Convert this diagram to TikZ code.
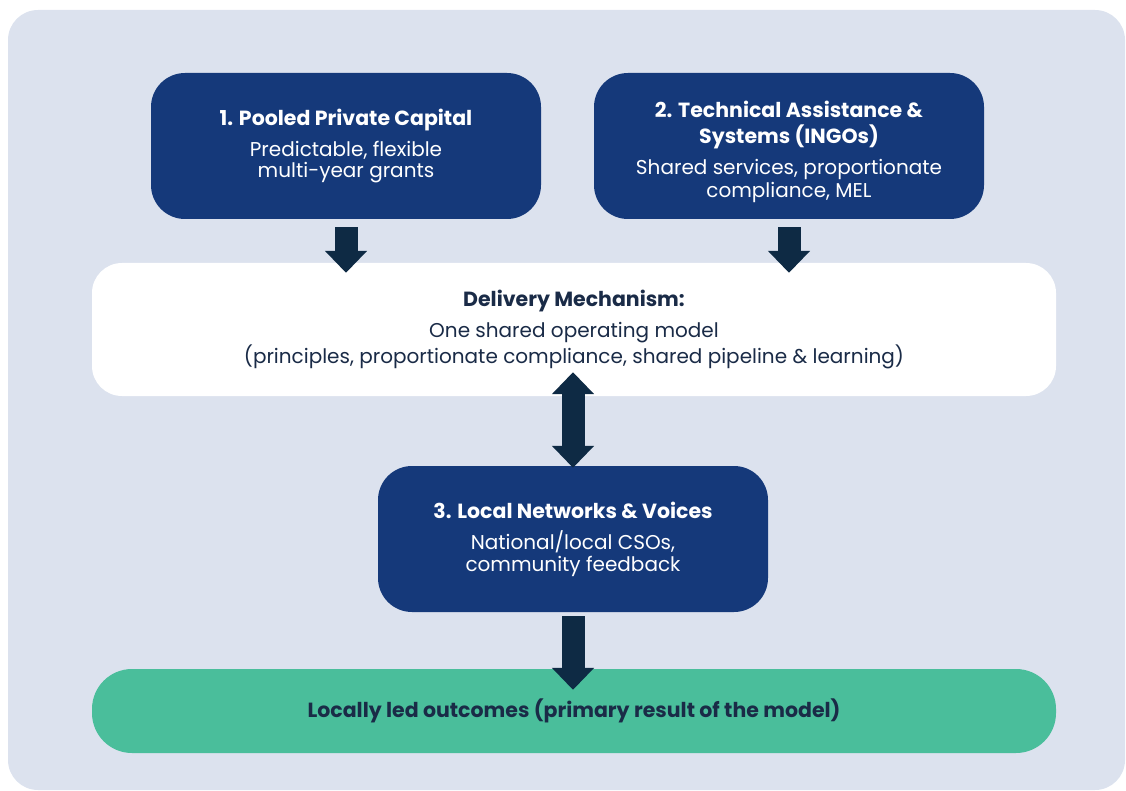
\documentclass[tikz,border=0pt]{standalone}
\usepackage{fontspec}
\setmainfont{Poppins}
\usetikzlibrary{arrows.meta,calc}

\definecolor{panelbg}{HTML}{DCE2EE}
\definecolor{boxblue}{HTML}{15397A}
\definecolor{arrowdark}{HTML}{0E2A44}
\definecolor{outgreen}{HTML}{4ABE9B}
\definecolor{textdark}{HTML}{1A2B47}

\tikzset{
  stage/.style={rectangle, rounded corners=34pt, fill=boxblue, text=white,
    minimum width=390pt, minimum height=146pt, align=center, inner sep=0pt},
  hub/.style={rectangle, rounded corners=30pt, fill=white, text=textdark,
    minimum width=964pt, minimum height=133pt, align=center, inner sep=0pt},
  result/.style={rectangle, rounded corners=40pt, fill=outgreen, text=textdark,
    minimum width=964pt, minimum height=84pt, align=center, inner sep=0pt},
  flow/.style={draw=arrowdark, line width=23pt,
    -{Triangle[width=41pt,length=22pt]}},
  twoway/.style={draw=arrowdark, line width=23pt,
    {Triangle[width=41pt,length=22pt]}-{Triangle[width=41pt,length=22pt]}},
}
\newcommand{\headfont}{\fontsize{20.5}{27}\selectfont\bfseries}
\newcommand{\bodyfont}{\fontsize{20}{22}\selectfont\mdseries}

\begin{document}
\begin{tikzpicture}[x=1pt,y=-1pt]
  \useasboundingbox (0,0) rectangle (1126,791);
  \fill[panelbg, rounded corners=30pt] (8,10) rectangle (1125,790);

  \node[stage] (capital) at (346,146)
    {\headfont 1. Pooled Private Capital\\[10pt]
     \bodyfont Predictable, flexible\\[2pt]\bodyfont multi-year grants};
  \node[stage] (support) at (789,146)
    {\headfont\rule{0pt}{28pt}2. Technical Assistance \&\\[6pt]\headfont Systems (INGOs)\\[10pt]
     \bodyfont Shared services, proportionate\\[1pt]\bodyfont compliance, MEL};
  \node[hub] (delivery) at (574,329.5)
    {\headfont Delivery Mechanism:\\[9pt]
     \bodyfont One shared operating model\\[1pt]\bodyfont (principles, proportionate compliance, shared pipeline \& learning)};
  \node[stage] (local) at (573,539)
    {\headfont 3. Local Networks \& Voices\\[11pt]
     \bodyfont National/local CSOs,\\[2pt]\bodyfont community feedback};
  \node[result] (outcome) at (574,711)
    {\headfont Locally led outcomes (primary result of the model)};

  % arrows into and out of the shared mechanism
  \draw[flow, shorten <=8pt, shorten >=-10pt] (capital.south) -- (capital.south |- delivery.north);
  \draw[flow, shorten <=8pt, shorten >=-10pt] (support.south) -- (support.south |- delivery.north);
  \draw[twoway, shorten <=-24pt, shorten >=-2pt] (local.north |- delivery.south) -- (local.north);
  \draw[flow, shorten <=4pt, shorten >=-21pt] (local.south) -- (local.south |- outcome.north);
\end{tikzpicture}
\end{document}
